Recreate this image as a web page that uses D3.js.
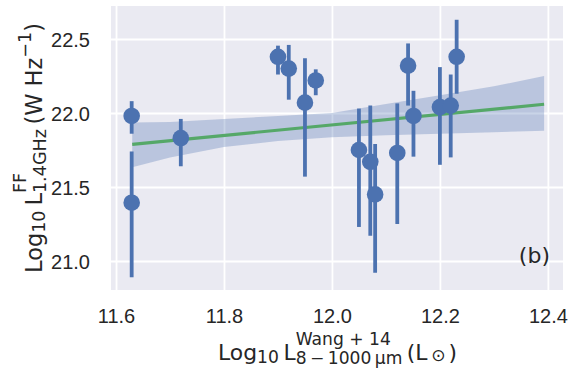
<!DOCTYPE html>
<html>
<head>
<meta charset="utf-8">
<script src="https://cdn.jsdelivr.net/npm/d3@7"></script>
<style>
  html, body { margin: 0; padding: 0; background: #ffffff; }
  svg { display: block; }
</style>
</head>
<body>
<svg id="chart" width="571" height="370"></svg>
<script>
// ---- data ----
const xVals  = [11.629, 11.629, 11.720, 11.900, 11.920, 11.950, 11.970, 12.050, 12.071, 12.080, 12.121, 12.141, 12.151, 12.200, 12.220, 12.231];
const yVals  = [21.98, 21.394, 21.83, 22.38, 22.30, 22.07, 22.22, 21.75, 21.67, 21.45, 21.73, 22.32, 21.98, 22.04, 22.05, 22.38];
const yLow   = [21.86, 20.89, 21.64, 22.26, 22.09, 21.57, 22.12, 21.23, 21.17, 20.92, 21.25, 22.05, 21.705, 21.65, 21.70, 22.13];
const yHigh  = [22.08, 21.74, 21.96, 22.455, 22.46, 22.37, 22.295, 22.03, 22.05, 21.79, 22.065, 22.47, 22.15, 22.31, 22.26, 22.63];

const fitX     = [11.63, 12.393];
const fitY     = [21.788, 22.059];
const bandX    = [11.63, 11.70, 11.80, 11.90, 12.00, 12.10, 12.20, 12.30, 12.393];
const bandLow  = [21.634, 21.70, 21.77, 21.81, 21.836, 21.85, 21.86, 21.87, 21.88];
const bandHigh = [21.935, 21.94, 21.96, 21.98, 22.00, 22.06, 22.12, 22.18, 22.25];

const xTicks = [11.6, 11.8, 12.0, 12.2, 12.4];
const yTicks = [21.0, 21.5, 22.0, 22.5];
const xDomain = [11.5907, 12.428];
const yDomain = [20.804, 22.723];

// ---- layout ----
const W = 571, H = 370;
const m = { left: 111, right: 8, top: 6, bottom: 80 };
const pw = W - m.left - m.right, ph = H - m.top - m.bottom;
const svg = d3.select('#chart');

const x = d3.scaleLinear().domain(xDomain).range([m.left, m.left + pw]);
const y = d3.scaleLinear().domain(yDomain).range([m.top + ph, m.top]);

const blue = '#4C72B0', green = '#55A868', ink = '#262626';

svg.append('rect').attr('x', m.left).attr('y', m.top).attr('width', pw).attr('height', ph)
  .attr('fill', '#EAEAF2');

// grid via axes
const gx = svg.append('g').attr('transform', `translate(0,${m.top + ph})`)
  .call(d3.axisBottom(x).tickValues(xTicks).tickSize(ph).tickFormat(d3.format('.1f')));
gx.select('.domain').remove();
gx.selectAll('.tick line').attr('y1', -ph).attr('y2', 0).attr('stroke', '#ffffff').attr('stroke-width', 1.8);
gx.selectAll('.tick text').attr('y', 33).attr('dy', 0)
  .attr('font-family', '"Liberation Sans", Arial, sans-serif').attr('font-size', 20).attr('fill', ink);

const gy = svg.append('g').attr('transform', `translate(${m.left},0)`)
  .call(d3.axisLeft(y).tickValues(yTicks).tickSize(0).tickFormat(d3.format('.1f')));
gy.select('.domain').remove();
gy.selectAll('.tick line').attr('x1', 0).attr('x2', pw).attr('stroke', '#ffffff').attr('stroke-width', 1.8);
gy.selectAll('.tick text').attr('x', -21).attr('dy', '0.36em')
  .attr('font-family', '"Liberation Sans", Arial, sans-serif').attr('font-size', 20).attr('fill', ink);

// confidence band
const band = bandX.map((v, i) => ({ x: v, lo: bandLow[i], hi: bandHigh[i] }));
svg.append('path').datum(band)
  .attr('d', d3.area().x(d => x(d.x)).y0(d => y(d.lo)).y1(d => y(d.hi)))
  .attr('fill', blue).attr('fill-opacity', 0.3).attr('stroke', 'none');

// regression line
svg.append('path').datum(fitX.map((v, i) => [v, fitY[i]]))
  .attr('d', d3.line().x(d => x(d[0])).y(d => y(d[1])))
  .attr('fill', 'none').attr('stroke', green).attr('stroke-width', 3.2);

// error bars and points
const pts = xVals.map((v, i) => ({ x: v, y: yVals[i], lo: yLow[i], hi: yHigh[i] }));
svg.append('g').selectAll('line').data(pts).join('line')
  .attr('x1', d => x(d.x)).attr('x2', d => x(d.x))
  .attr('y1', d => y(d.lo)).attr('y2', d => y(d.hi))
  .attr('stroke', blue).attr('stroke-width', 3.8);
svg.append('g').selectAll('circle').data(pts).join('circle')
  .attr('cx', d => x(d.x)).attr('cy', d => y(d.y)).attr('r', 8.3)
  .attr('fill', blue);

// rich text helper: lays out segments, then rescales to fit a target width
function rich(g, segs, k) {
  let cx = 0, prevStart = 0;
  segs.forEach(sg => {
    const sx = sg.stack ? prevStart : cx;
    const t = g.append('text').attr('x', sx).attr('y', (sg.dy || 0) * k)
      .attr('font-size', sg.s * k).attr('fill', ink).text(sg.t);
    const w = t.node().getComputedTextLength();
    if (sg.stack) cx = Math.max(cx, sx + w);
    else { prevStart = sx; cx = sx + w + (sg.gap || 0) * k; }
  });
  return cx;
}
function fitRich(g, segs, target) {
  const w0 = rich(g, segs, 1);
  g.selectAll('*').remove();
  return rich(g, segs, target / w0);
}
const F = 23, S = 18;

// x label
const xl = svg.append('g').attr('font-family', '"DejaVu Sans", sans-serif');
fitRich(xl, [
  { t: 'Log', s: F }, { t: '10', s: S, dy: 3, gap: 5 },
  { t: 'L', s: F },
  { t: 'Wang + 14', s: S, dy: -16 }, { t: '8\u2009\u2212\u20091000\u2009μm', s: S, dy: 4, stack: true, },
  { t: '\u2009(L', s: F, gap: 4 }, { t: '⊙', s: S, dy: 1, gap: 3 }, { t: ')', s: F }
], 239);
xl.attr('transform', `translate(218,360)`);

// y label
const yl = svg.append('g').attr('font-family', '"DejaVu Sans", sans-serif');
const yw = fitRich(yl, [
  { t: 'Log', s: F }, { t: '10', s: S, dy: 3, gap: 5 },
  { t: 'L', s: F },
  { t: 'FF', s: S, dy: -16 }, { t: '1.4GHz', s: S, dy: 4, stack: true },
  { t: '\u2009(W Hz', s: F }, { t: '\u22121', s: S, dy: -11 }, { t: ')', s: F }
], 250);
yl.attr('transform', `translate(42,${148 + yw / 2}) rotate(-90)`);

// panel tag
svg.append('text').attr('x', 550).attr('y', 263).attr('text-anchor', 'end')
  .attr('font-family', '"DejaVu Sans", sans-serif').attr('font-size', 22).attr('fill', ink)
  .text('(b)');
</script>
</body>
</html>
